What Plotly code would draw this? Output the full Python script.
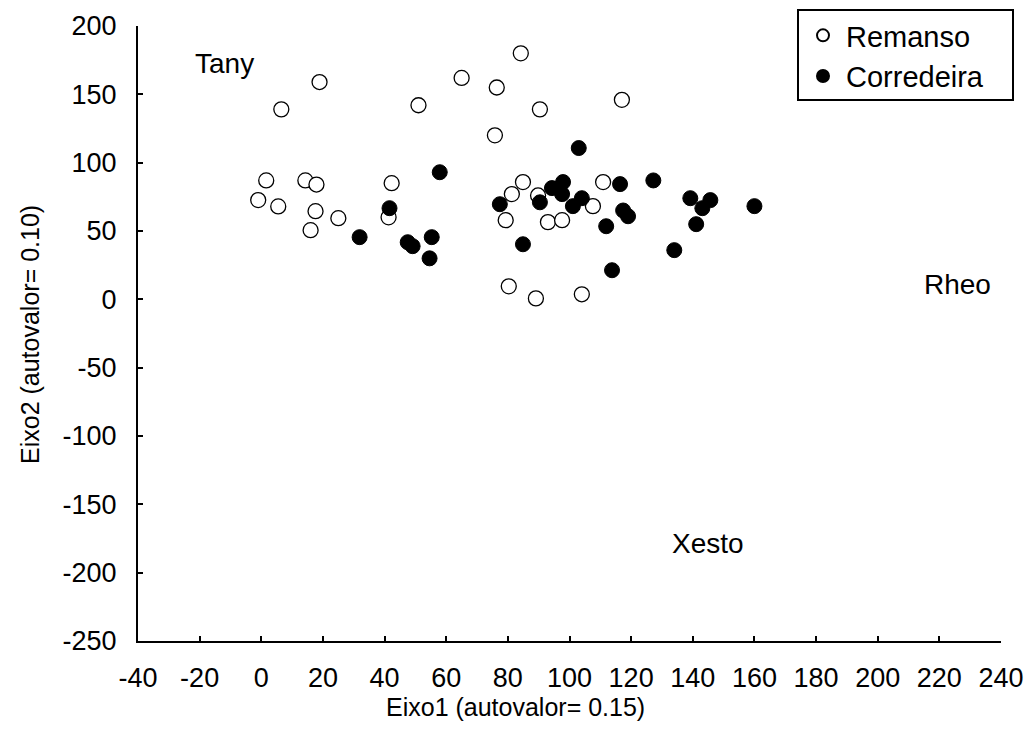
import plotly.graph_objects as go

remanso_x = [6.5, 18.9, 51, 65, 84.2, 76.4, 90.4, 117, 75.8,
             -1, 1.6, 5.5, 14.3, 17.9, 17.6, 16, 25, 42.3, 41.3,
             84.9, 81.3, 89.8, 107.6, 110.9, 79.3, 93, 97.6,
             80.3, 89.1, 104]
remanso_y = [139, 159, 142, 162, 180, 155, 139, 146, 120,
             72.6, 87, 68, 87, 84, 64.5, 50.6, 59.4, 85, 60,
             85.8, 77, 76, 68.2, 85.8, 57.9, 56.5, 57.9,
             9.5, 0.7, 3.7]

corredeira_x = [41.6, 57.9, 31.9, 47.5, 49.1, 55.3, 54.6,
                103, 77.4, 90.4, 94.3, 97.9, 97.6, 101.1, 104,
                116.4, 127.2, 117.4, 119, 111.9, 84.9, 113.8,
                139.2, 145.7, 143.1, 160, 141.1, 134]
corredeira_y = [66.7, 93, 45.5, 41.8, 38.9, 45.5, 30,
                110.7, 69.6, 71, 81.4, 85.8, 77, 68.2, 74,
                84.3, 87, 65, 60.8, 53.5, 40.3, 21.3,
                74, 72.6, 66.7, 68.2, 55, 36]

group_labels = ["Tany", "Rheo", "Xesto"]
group_x = [-12, 225.9, 144.9]
group_y = [172.9, 11.1, -178.5]

x_ticks = list(range(-40, 241, 20))
y_ticks = list(range(-250, 201, 50))

font = "Arial, Liberation Sans, sans-serif"

L, R, T, B = 138, 30, 26, 110
W, H = 1031, 751
pw, ph = W - L - R, H - T - B


def px_to_paper_x(px):
    return (px - L) / pw


def py_to_paper_y(py):
    return 1 - (py - T) / ph


fig = go.Figure()
fig.add_trace(go.Scatter(
    x=remanso_x, y=remanso_y, mode="markers", name="Remanso",
    marker=dict(symbol="circle", size=15, color="white",
                line=dict(color="black", width=1.3)),
    cliponaxis=False))
fig.add_trace(go.Scatter(
    x=corredeira_x, y=corredeira_y, mode="markers", name="Corredeira",
    marker=dict(symbol="circle", size=15, color="black",
                line=dict(color="black", width=1)),
    cliponaxis=False))

for t, x, y in zip(group_labels, group_x, group_y):
    fig.add_annotation(x=x, y=y, text=t, showarrow=False,
                       font=dict(family=font, size=28, color="black"))

fig.add_annotation(xref="paper", yref="paper", x=px_to_paper_x(515), y=py_to_paper_y(707),
                   text="Eixo1 (autovalor= 0.15)", showarrow=False,
                   xanchor="center", yanchor="middle",
                   font=dict(family=font, size=25, color="black"))
fig.add_annotation(xref="paper", yref="paper", x=px_to_paper_x(30), y=py_to_paper_y(335),
                   text="Eixo2 (autovalor= 0.10)", showarrow=False, textangle=-90,
                   xanchor="center", yanchor="middle",
                   font=dict(family=font, size=25, color="black"))

# legend frame
fig.add_shape(type="rect", xref="paper", yref="paper",
              x0=px_to_paper_x(798), x1=px_to_paper_x(1013),
              y0=py_to_paper_y(100), y1=py_to_paper_y(10),
              line=dict(color="black", width=2), fillcolor="rgba(0,0,0,0)",
              layer="above")

fig.update_layout(
    width=W, height=H,
    margin=dict(l=L, r=R, t=T, b=B, autoexpand=False),
    paper_bgcolor="white", plot_bgcolor="white",
    font=dict(family=font, size=27, color="black"),
    showlegend=True,
    legend=dict(xref="container", yref="container",
                x=800 / W, y=1 - 10 / H, xanchor="left", yanchor="top",
                borderwidth=0, bgcolor="rgba(0,0,0,0)",
                font=dict(family=font, size=29, color="black"),
                itemsizing="constant", itemwidth=36, tracegroupgap=0),
    xaxis=dict(range=[-40, 240], tickvals=x_ticks, ticktext=[str(v) for v in x_ticks],
               ticks="inside", ticklen=5, tickwidth=1.5, tickcolor="black",
               showline=True, linecolor="black", linewidth=2,
               showgrid=False, zeroline=False, ticklabelstandoff=12,
               tickfont=dict(family=font, size=27)),
    yaxis=dict(range=[-250, 200], tickvals=y_ticks, ticktext=[str(v) for v in y_ticks],
               ticks="inside", ticklen=5, tickwidth=1.5, tickcolor="black",
               showline=True, linecolor="black", linewidth=2,
               showgrid=False, zeroline=False, ticklabelstandoff=14,
               tickfont=dict(family=font, size=27)),
)

fig.write_html("out.html")
